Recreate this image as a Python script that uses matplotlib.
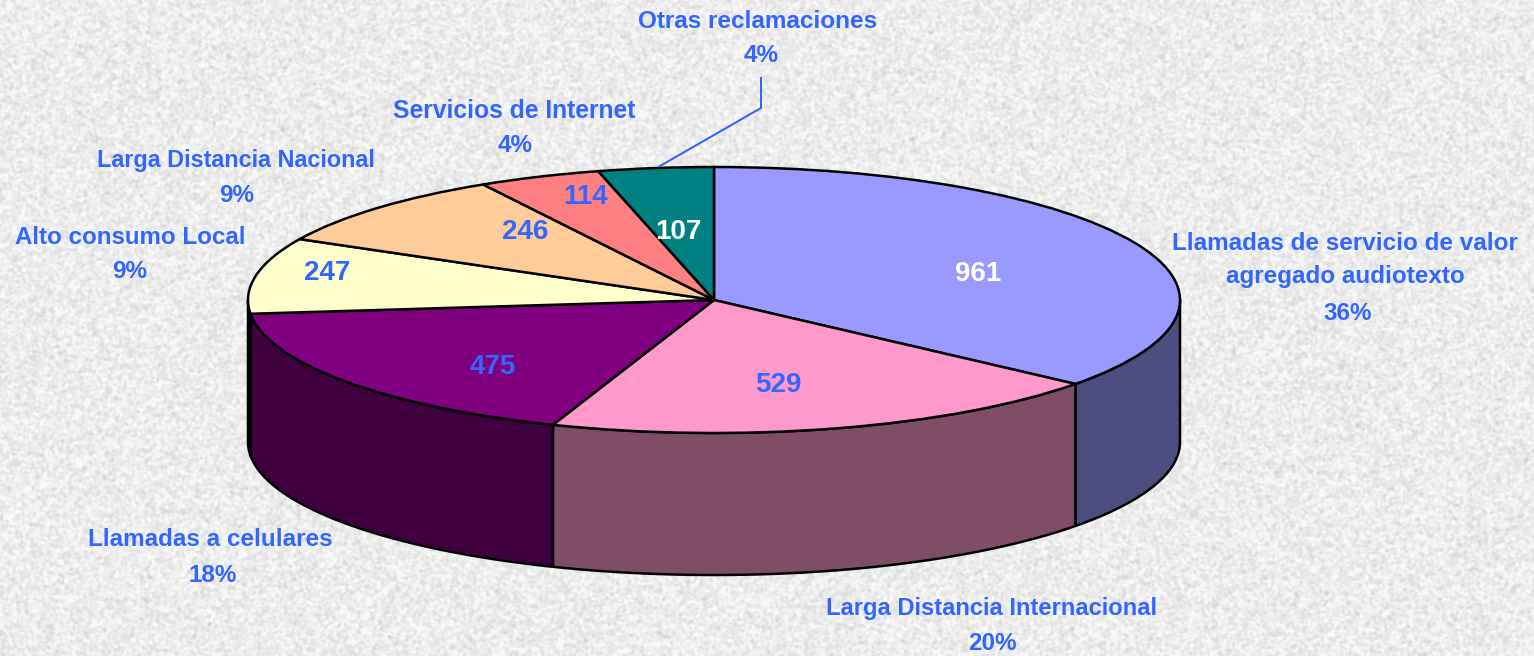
import numpy as np
import matplotlib
matplotlib.use("Agg")
import matplotlib.pyplot as plt

W, H = 1534, 656
plt.rcParams['font.family'] = ['Liberation Sans', 'DejaVu Sans']

categories = ["Llamadas de servicio de valor\nagregado audiotexto", "Larga Distancia Internacional",
              "Llamadas a celulares", "Alto consumo Local", "Larga Distancia Nacional",
              "Servicios de Internet", "Otras reclamaciones"]
values = [961, 529, 475, 247, 246, 114, 107]
percents = ["36%", "20%", "18%", "9%", "9%", "4%", "4%"]
top_colors = ["#9999ff", "#ff99cc", "#800080", "#ffffcc", "#ffcc99", "#ff8080", "#008080"]
side_colors = ["#4d4d80", "#804d66", "#400040", "#808066", "#80664d", "#804040", "#004040"]
value_colors = ["white", "#3366ff", "#3366ff", "#3366ff", "#3366ff", "#3366ff", "white"]
BLUE = "#3366ff"

CX, CY, RX, RY, DEPTH = 714, 300, 466, 133, 142

fig = plt.figure(figsize=(W / 100, H / 100), dpi=100)

# paper-like backdrop (decorative only)
bg = fig.add_axes([0, 0, 1, 1], zorder=0)
rng = np.random.default_rng(3)
noise = rng.normal(size=(H, W))
for _ in range(3):
    noise = (noise + np.roll(noise, 1, 0) + np.roll(noise, -1, 0) + np.roll(noise, 1, 1) + np.roll(noise, -1, 1)) / 5
noise = noise / noise.std()
tex = np.clip(236 + 7 * noise, 200, 248)
bg.imshow(tex, cmap="gray", vmin=0, vmax=255, aspect="auto", interpolation="bilinear")
bg.axis("off")

# pie axes: one data unit = RX px horizontally, RY px vertically
ax = fig.add_axes([0, 0, 1, 1], zorder=1)
ax.patch.set_alpha(0)
xlim = (-CX / RX, (W - CX) / RX)
ylim = ((CY - H) / RY, CY / RY)
drop = DEPTH / RY

fractions = np.array(values) / sum(values)
edges = 90 - 360 * np.concatenate([[0], np.cumsum(fractions)])
for i in range(len(values)):
    a0, a1 = edges[i], edges[i + 1]
    lo, hi = max(a1, -180), min(a0, 0)
    if lo >= hi:
        continue
    t = np.radians(np.linspace(hi, lo, 80))
    xs, ys = np.cos(t), np.sin(t)
    ax.fill(np.r_[xs, xs[::-1]], np.r_[ys, ys[::-1] - drop],
            facecolor=side_colors[i], edgecolor="black", linewidth=1.8, joinstyle="round", zorder=1)

ax.pie(values, colors=top_colors, startangle=90, counterclock=False, radius=1, center=(0, 0),
       wedgeprops=dict(edgecolor="black", linewidth=1.8, zorder=2), normalize=True)
ax.set_aspect("auto")
ax.set_xlim(*xlim)
ax.set_ylim(*ylim)
ax.axis("off")

# text layer in pixel coordinates
tx = fig.add_axes([0, 0, 1, 1], zorder=2)
tx.patch.set_alpha(0)
tx.set_xlim(0, W)
tx.set_ylim(H, 0)
tx.axis("off")

value_pos = [(978, 274), (778, 385), (493, 367), (327, 273), (525, 232), (586, 197), (678, 232)]
for v, (x, y), c in zip(values, value_pos, value_colors):
    tx.text(x, y, str(v), color=c, fontsize=20, fontweight="bold", ha="center", va="center")

name_pos = [(1345, 260), (992, 608), (210, 540), (130, 237), (236, 160), (514, 111), (758, 21)]
pct_pos = [(1348, 313), (992, 643), (213, 575), (130, 272), (237, 195), (515, 146), (761, 56)]
name_size = [17.5, 17.1, 17.5, 17.4, 16.8, 17.7, 17.5]
for cat, pct, np_, pp, fs in zip(categories, percents, name_pos, pct_pos, name_size):
    tx.text(np_[0], np_[1], cat, color=BLUE, fontsize=fs, fontweight="bold",
            ha="center", va="center", linespacing=1.55)
    tx.text(pp[0], pp[1], pct, color=BLUE, fontsize=17.5, fontweight="bold", ha="center", va="center")

tx.plot([660, 761, 761], [166, 108, 78], color=BLUE, lw=1.5)

fig.savefig("out.png", dpi=100)
